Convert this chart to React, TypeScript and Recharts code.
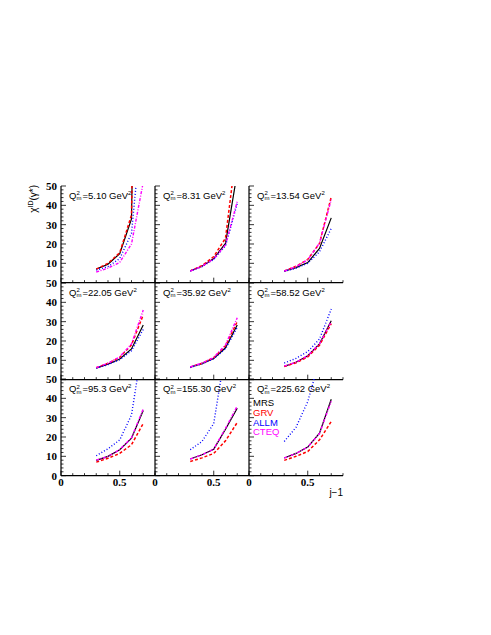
import { LineChart, Line, XAxis, YAxis } from "recharts";

// j-1 sample points shared by every panel
const J_MINUS_1 = [0.3, 0.4, 0.5, 0.6, 0.7];

const Q2_LABELS = ["5.10", "8.31", "13.54", "22.05", "35.92", "58.52", "95.3", "155.30", "225.62"];

// one row per panel (values above 50 run off the frame)
const MRS = [
  [7, 9.5, 15, 33, 400],
  [6.1, 8.5, 12.5, 20.3, 57],
  [6, 7.8, 10.4, 17.7, 33.5],
  [6, 8, 10.7, 15.9, 28.3],
  [6.5, 8.3, 11, 16.5, 28.3],
  [6.9, 9, 12.4, 18.5, 30.5],
  [7.9, 10, 13.4, 19.4, 33.7],
  [8.6, 10.8, 13.7, 24, 34.9],
  [9.1, 11.5, 14.8, 22, 39.5],
];
const GRV = [
  [7, 10, 15.5, 35, 400],
  [6.1, 8.8, 13.5, 23, 72],
  [6, 8.5, 12, 20.3, 44.4],
  [6.2, 8.5, 11.5, 18, 33.5],
  [6.5, 8.5, 11.3, 17.5, 30],
  [6.8, 8.7, 11.8, 17.8, 29],
  [7, 9, 11.5, 16, 27],
  [7.3, 9.2, 11.5, 18, 27.5],
  [7.9, 10, 12.5, 18.5, 28],
];
const ALLM = [
  [6.5, 8.3, 12.5, 25.5, 90],
  [6, 8.3, 12, 19, 41],
  [5.8, 7.5, 10, 16, 28],
  [6, 7.8, 10.3, 15, 26],
  [6.3, 8.2, 10.8, 16, 27],
  [8.6, 11, 14.5, 21, 36.5],
  [10.3, 13.9, 18.5, 31.4, 70],
  [13.4, 17.7, 27, 65, 150],
  [17.7, 25, 38.3, 60, 150],
];
const CTEQ = [
  [5.5, 7.5, 10.5, 20, 52],
  [6, 8.5, 12.3, 19.5, 42],
  [6, 8.3, 11.8, 20.5, 43],
  [6.2, 8.5, 11.8, 18.5, 36],
  [6.6, 8.6, 11.5, 18, 32],
  [7, 9, 12.4, 18.5, 30],
  [8, 10, 13.5, 19.6, 34.5],
  [8.6, 10.8, 13.8, 24.5, 36],
  [9.1, 11.5, 14.8, 21.8, 38.5],
];

const X_TICKS = [0, 0.1, 0.2, 0.3, 0.4, 0.5, 0.6, 0.7, 0.8];
const Y_TICKS = [0, 2, 4, 6, 8, 10, 12, 14, 16, 18, 20, 22, 24, 26, 28, 30, 32, 34, 36, 38, 40, 42, 44, 46, 48, 50];

const MODELS = [
  { name: "MRS", values: MRS, color: "#000000", dash: undefined, width: 1.2 },
  { name: "GRV", values: GRV, color: "#ff0000", dash: "3 2", width: 1.5 },
  { name: "ALLM", values: ALLM, color: "#0000ff", dash: "1 2", width: 1.4 },
  { name: "CTEQ", values: CTEQ, color: "#ff00ff", dash: "3 1.5 1 1.5", width: 1.4 },
];

// layout of the 3x3 grid (page pixels)
const PLOT_LEFT = 61;
const PLOT_TOP = 186;
const PANEL_W = 94;
const PANEL_H = 96.67;
const AXIS_W = 32;
const AXIS_H = 24;
const PAD_TOP = 9;
const PAD_RIGHT = 4;
const MARGIN = 3;

const tickFont = { fontFamily: "'Liberation Serif', serif", fontWeight: "bold" as const, fontSize: 11 };

const isMajorX = (v: number) => v === 0 || Math.abs(v - 0.5) < 1e-9;

const LeftTick = (props: any) => {
  const { x, y, payload, showLabel, hideZero } = props;
  const v = payload.value;
  const ax = x + MARGIN;
  const major = v % 10 === 0;
  const len = major ? 5 : 2.5;
  const label = showLabel && major && !(hideZero && v === 0);
  return (
    <g>
      <line x1={ax} x2={ax + len} y1={y} y2={y} stroke="#000" strokeWidth={0.8} />
      {label && (
        <text x={ax - 4} y={y} dy="0.36em" textAnchor="end" {...tickFont} fill="#000">
          {v}
        </text>
      )}
    </g>
  );
};

const RightTick = (props: any) => {
  const { x, y, payload } = props;
  const ax = x - MARGIN;
  const len = payload.value % 10 === 0 ? 5 : 2.5;
  return <line x1={ax} x2={ax - len} y1={y} y2={y} stroke="#000" strokeWidth={0.8} />;
};

const BottomTick = (props: any) => {
  const { x, y, payload, showLabel } = props;
  const v = payload.value;
  const ay = y - MARGIN;
  const major = isMajorX(v);
  const len = major ? 5 : 2.5;
  return (
    <g>
      <line x1={x} x2={x} y1={ay} y2={ay - len} stroke="#000" strokeWidth={0.8} />
      {showLabel && major && (
        <text x={x} y={ay + 10} textAnchor="middle" {...tickFont} fill="#000">
          {v}
        </text>
      )}
    </g>
  );
};

const TopTick = (props: any) => {
  const { x, y, payload } = props;
  const ay = y + MARGIN;
  const len = isMajorX(payload.value) ? 5 : 2.5;
  return <line x1={x} x2={x} y1={ay} y2={ay + len} stroke="#000" strokeWidth={0.8} />;
};

function Panel({ idx }: { idx: number }) {
  const col = idx % 3;
  const row = Math.floor(idx / 3);
  const data = J_MINUS_1.map((x, i) => {
    const point: Record<string, number> = { x };
    MODELS.forEach((m) => (point[m.name] = m.values[idx][i]));
    return point;
  });
  const frame = { stroke: "#000", strokeWidth: 1.2 };

  return (
    <div
      style={{
        position: "absolute",
        left: PLOT_LEFT + col * PANEL_W - AXIS_W,
        top: PLOT_TOP + row * PANEL_H - PAD_TOP,
      }}
    >
      <LineChart
        width={AXIS_W + PANEL_W + PAD_RIGHT}
        height={PAD_TOP + PANEL_H + AXIS_H}
        data={data}
        margin={{ top: PAD_TOP, right: PAD_RIGHT, left: 0, bottom: 0 }}
      >
        <XAxis
          xAxisId="b"
          dataKey="x"
          type="number"
          domain={[0, 0.8]}
          allowDataOverflow
          ticks={X_TICKS}
          interval={0}
          height={AXIS_H}
          tickSize={0}
          tickMargin={MARGIN}
          tickLine={false}
          axisLine={frame}
          tick={<BottomTick showLabel={row === 2} />}
        />
        <XAxis
          xAxisId="t"
          orientation="top"
          dataKey="x"
          type="number"
          domain={[0, 0.8]}
          allowDataOverflow
          ticks={X_TICKS}
          interval={0}
          height={0}
          tickSize={0}
          tickMargin={MARGIN}
          tickLine={false}
          axisLine={frame}
          tick={<TopTick />}
        />
        <YAxis
          yAxisId="l"
          type="number"
          domain={[0, 50]}
          allowDataOverflow
          ticks={Y_TICKS}
          interval={0}
          width={AXIS_W}
          tickSize={0}
          tickMargin={MARGIN}
          tickLine={false}
          axisLine={frame}
          tick={<LeftTick showLabel={col === 0} hideZero={row !== 2} />}
        />
        <YAxis
          yAxisId="r"
          orientation="right"
          type="number"
          domain={[0, 50]}
          allowDataOverflow
          ticks={Y_TICKS}
          interval={0}
          width={0}
          tickSize={0}
          tickMargin={MARGIN}
          tickLine={false}
          axisLine={frame}
          tick={<RightTick />}
        />
        {MODELS.map((m) => (
          <Line
            key={m.name}
            xAxisId="b"
            yAxisId="l"
            dataKey={m.name}
            stroke={m.color}
            strokeWidth={m.width}
            strokeDasharray={m.dash}
            dot={false}
            type="linear"
            isAnimationActive={false}
          />
        ))}
      </LineChart>
    </div>
  );
}

function PanelTitle({ idx }: { idx: number }) {
  const col = idx % 3;
  const row = Math.floor(idx / 3);
  return (
    <div
      style={{
        position: "absolute",
        left: PLOT_LEFT + col * PANEL_W + 8,
        top: PLOT_TOP + row * PANEL_H + 2,
        fontFamily: "'Liberation Sans', Arial, sans-serif",
        fontSize: 9.5,
        lineHeight: "11px",
        whiteSpace: "nowrap",
        color: "#000",
      }}
    >
      Q
      <span
        style={{
          display: "inline-flex",
          flexDirection: "column",
          fontSize: 6,
          lineHeight: "5px",
          verticalAlign: "middle",
          marginRight: 1,
        }}
      >
        <span>2</span>
        <span>m</span>
      </span>
      ={Q2_LABELS[idx]} GeV
      <span style={{ fontSize: 6, verticalAlign: "4px" }}>2</span>
    </div>
  );
}

export default function App() {
  return (
    <div style={{ position: "absolute", left: 0, top: 0, width: 491, height: 635, background: "#fff" }}>
      {Q2_LABELS.map((_, i) => (
        <Panel key={i} idx={i} />
      ))}
      {Q2_LABELS.map((_, i) => (
        <PanelTitle key={i} idx={i} />
      ))}
      <svg style={{ position: "absolute", left: 20, top: 170 }} width={30} height={60}>
        <text
          transform="translate(17,15) rotate(-90)"
          textAnchor="end"
          fontFamily="'Liberation Sans', Arial, sans-serif"
          fontSize={10}
          fill="#000"
        >
          χ
          <tspan dy={-4} fontSize={7}>
            ID
          </tspan>
          <tspan dy={4}>(γ*)</tspan>
        </text>
      </svg>
      <div
        style={{
          position: "absolute",
          left: 253,
          top: 398,
          fontFamily: "'Liberation Sans', Arial, sans-serif",
          fontSize: 9.5,
          lineHeight: "9.8px",
        }}
      >
        {MODELS.map((m) => (
          <div key={m.name} style={{ color: m.color }}>
            {m.name}
          </div>
        ))}
      </div>
      <div
        style={{
          position: "absolute",
          left: 300,
          width: 43,
          top: 487,
          textAlign: "right",
          fontFamily: "'Liberation Sans', Arial, sans-serif",
          fontSize: 10,
          color: "#000",
        }}
      >
        j−1
      </div>
    </div>
  );
}
